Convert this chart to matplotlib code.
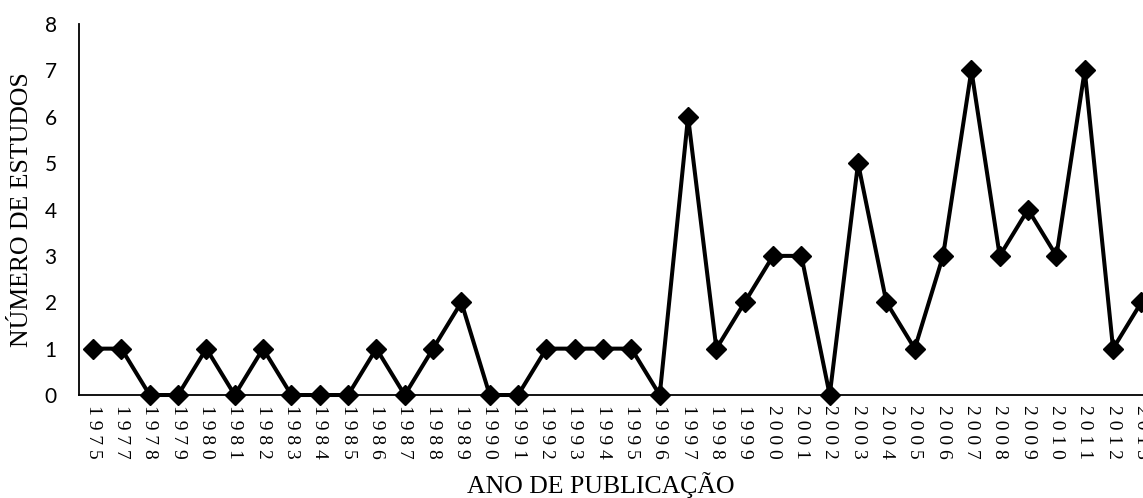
import numpy as np
import matplotlib.pyplot as plt

anos = ['1975', '1977', '1978', '1979', '1980', '1981', '1982', '1983', '1984',
        '1985', '1986', '1987', '1988', '1989', '1990', '1991', '1992', '1993',
        '1994', '1995', '1996', '1997', '1998', '1999', '2000', '2001', '2002',
        '2003', '2004', '2005', '2006', '2007', '2008', '2009', '2010', '2011',
        '2012', '2013']
estudos = [1, 1, 0, 0, 1, 0, 1, 0, 0, 0, 1, 0, 1, 2, 0, 0, 1, 1,
           1, 1, 0, 6, 1, 2, 3, 3, 0, 5, 2, 1, 3, 7, 3, 4, 3, 7,
           1, 2]


def main():
    fig = plt.figure(figsize=(11.43, 4.98), dpi=100)
    ax = fig.add_axes([0.069, 0.2068, 0.942, 0.745])
    x = np.arange(len(anos))
    ax.plot(x, estudos, color='black', linewidth=2.9, marker='D',
            markersize=10, clip_on=False)

    ax.set_xlim(-0.5, len(anos) - 0.5)
    ax.set_ylim(0, 8)
    ax.set_xticks(x)
    # digitos espacados como no original
    ax.set_xticklabels([' '.join(a) for a in anos], rotation=-90,
                       family='Liberation Serif', fontsize=14)
    ax.set_yticks(range(0, 9))
    ax.set_yticklabels([str(v) for v in range(0, 9)], family='Lato', fontsize=15)
    ax.tick_params(axis='x', length=0, pad=7)
    ax.tick_params(axis='y', length=0, pad=16)

    for side in ['top', 'right']:
        ax.spines[side].set_visible(False)
    ax.spines['left'].set_linewidth(1.3)
    ax.spines['bottom'].set_linewidth(1.3)

    fig.text(601 / 1143, 1 - 485 / 498, 'ANO DE PUBLICAÇÃO', family='Liberation Serif',
             fontsize=18.5, ha='center', va='center')
    fig.text(22 / 1143, 1 - 210 / 498, 'NÚMERO DE ESTUDOS', family='Liberation Serif',
             fontsize=18.5, ha='center', va='center', rotation=90)

    fig.savefig('out.png', dpi=100)


if __name__ == '__main__':
    main()
